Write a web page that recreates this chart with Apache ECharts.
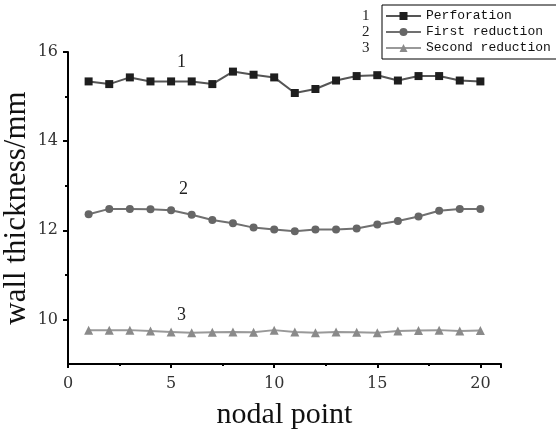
<!DOCTYPE html>
<html>
<head>
<meta charset="utf-8">
<script src="https://cdn.jsdelivr.net/npm/echarts@6/dist/echarts.min.js"></script>
<style>
  html, body { margin: 0; padding: 0; background: #fff; }
  #chart { width: 556px; height: 432px; }
</style>
</head>
<body>
<div id="chart"></div>
<script>
const nodes = [1, 2, 3, 4, 5, 6, 7, 8, 9, 10, 11, 12, 13, 14, 15, 16, 17, 18, 19, 20];
const perforation = [15.34, 15.28, 15.43, 15.34, 15.34, 15.34, 15.28, 15.56, 15.49, 15.43,
  15.08, 15.17, 15.36, 15.46, 15.48, 15.36, 15.46, 15.46, 15.36, 15.34];
const firstReduction = [12.36, 12.48, 12.48, 12.47, 12.45, 12.35, 12.23, 12.16, 12.06, 12.02,
  11.98, 12.02, 12.02, 12.04, 12.13, 12.21, 12.31, 12.44, 12.48, 12.48];
const secondReduction = [9.76, 9.76, 9.76, 9.74, 9.72, 9.70, 9.71, 9.72, 9.71, 9.76,
  9.72, 9.70, 9.72, 9.71, 9.70, 9.74, 9.75, 9.76, 9.74, 9.75];
const seriesNames = ["Perforation", "First reduction", "Second reduction"];
const curveTags = [["1", 5.5, 15.78], ["2", 5.6, 12.92], ["3", 5.5, 10.09]];
const yLabels = [10, 12, 14, 16];
const yMinor = [11, 13, 15];

const serif = "Liberation Serif";
const tickFont = "DejaVu Serif";
const chart = echarts.init(document.getElementById("chart"));

function pairs(vals) {
  return nodes.map((n, i) => [n, vals[i]]);
}
function tag(i) {
  return {
    symbol: "circle",
    symbolSize: 1,
    silent: true,
    itemStyle: { color: "rgba(0,0,0,0)" },
    label: { show: true, position: "inside", formatter: curveTags[i][0], color: "#222", fontFamily: serif, fontSize: 18 },
    data: [{ coord: [curveTags[i][1], curveTags[i][2]] }],
  };
}

const option = {
  animation: false,
  backgroundColor: "#fff",
  grid: { left: 68, right: 55, top: 52, bottom: 68, outerBoundsMode: "none" },
  legend: {
    orient: "vertical",
    left: 382,
    top: 5,
    padding: [3, 12, 3, 3],
    itemGap: 0,
    itemWidth: 35,
    itemHeight: 10,
    borderColor: "#000",
    borderWidth: 1,
    data: seriesNames,
    textStyle: { fontFamily: "Liberation Mono", fontSize: 13, color: "#111", lineHeight: 16 },
  },
  graphic: [
    { type: "text", left: 362, top: 8, style: { text: "1\n2\n3", fontFamily: serif, fontSize: 15, lineHeight: 16, fill: "#222" } },
  ],
  xAxis: {
    type: "value",
    min: 0,
    max: 21,
    interval: 5,
    name: "nodal point",
    nameLocation: "middle",
    nameGap: 36,
    nameMoveOverlap: false,
    nameTextStyle: { fontFamily: serif, fontSize: 30, color: "#111" },
    axisLine: { lineStyle: { color: "#000", width: 2 } },
    axisTick: { length: 4, lineStyle: { color: "#000", width: 2 } },
    minorTick: { show: true, splitNumber: 2, length: 2, lineStyle: { color: "#000", width: 2 } },
    axisLabel: { fontFamily: tickFont, fontSize: 16, color: "#333", margin: 12, showMaxLabel: false },
    splitLine: { show: false },
  },
  yAxis: [
    {
      type: "value",
      min: 9,
      max: 16,
      interval: 1,
      name: "wall thickness/mm",
      nameLocation: "middle",
      nameGap: 36,
      nameMoveOverlap: false,
      nameTextStyle: { fontFamily: serif, fontSize: 31, color: "#111" },
      axisLine: { show: true, lineStyle: { color: "#000", width: 2 } },
      axisTick: { show: true, length: 5, customValues: yLabels, lineStyle: { color: "#000", width: 2 } },
      axisLabel: { customValues: yLabels, fontFamily: tickFont, fontSize: 16, color: "#333", margin: 10 },
      splitLine: { show: false },
    },
    {
      type: "value",
      min: 9,
      max: 16,
      interval: 1,
      position: "left",
      axisLine: { show: false },
      axisTick: { show: true, length: 3, customValues: yMinor, lineStyle: { color: "#000", width: 2 } },
      axisLabel: { show: false },
      splitLine: { show: false },
    },
  ],
  series: [
    {
      name: seriesNames[0],
      type: "line",
      data: pairs(perforation),
      symbol: "rect",
      symbolSize: 8,
      itemStyle: { color: "#1e1e1e" },
      lineStyle: { color: "#555", width: 2 },
      markPoint: tag(0),
    },
    {
      name: seriesNames[1],
      type: "line",
      data: pairs(firstReduction),
      symbol: "circle",
      symbolSize: 8,
      itemStyle: { color: "#666" },
      lineStyle: { color: "#707070", width: 2 },
      markPoint: tag(1),
    },
    {
      name: seriesNames[2],
      type: "line",
      data: pairs(secondReduction),
      symbol: "triangle",
      symbolSize: 9,
      itemStyle: { color: "#8a8a8a" },
      lineStyle: { color: "#999", width: 2 },
      markPoint: tag(2),
    },
  ],
};
chart.setOption(option);
</script>
</body>
</html>
